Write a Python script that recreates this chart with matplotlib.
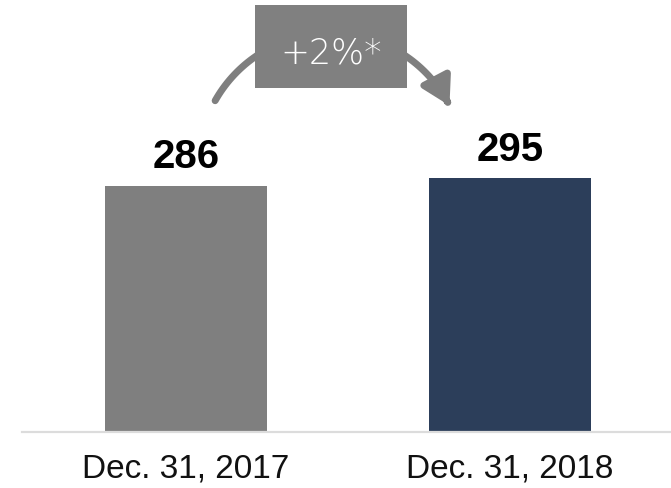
import numpy as np
import matplotlib
matplotlib.use("Agg")
import matplotlib.pyplot as plt
from matplotlib.patches import FancyArrowPatch, Rectangle
from matplotlib.path import Path

categories = ["Dec. 31, 2017", "Dec. 31, 2018"]
values = [286, 295]
bar_colors = ["#7f7f7f", "#2c3e5a"]
change_label = "+2%*"

W, H = 671, 489
fig = plt.figure(figsize=(W / 100, H / 100), dpi=100)

# main bar axes: baseline near the bottom, bars spaced 324 px apart
ax = fig.add_axes([22 / W, 56 / H, 649 / W, 433 / H])
x = np.arange(len(categories))
ax.bar(x, values, width=0.5, color=bar_colors, zorder=2)
ax.set_xlim(-0.506, 1.497)
ax.set_ylim(0, 433 / 0.8605)

for xi, v in zip(x, values):
    ax.annotate(f"{v}", (xi, v), xytext=(0, 7.5), textcoords="offset points",
                ha="center", va="bottom", fontsize=29, fontweight="bold",
                family=["Liberation Sans", "DejaVu Sans"], color="black")

ax.set_xticks(x)
ax.set_xticklabels(categories, fontsize=24,
                   family=["Liberation Sans", "DejaVu Sans"],
                   color="#111111")
ax.tick_params(axis="x", length=0, pad=15)
ax.set_yticks([])
for side in ("top", "right", "left"):
    ax.spines[side].set_visible(False)
ax.spines["bottom"].set_color("#dcdcdc")
ax.spines["bottom"].set_linewidth(1.6)

# overlay in pixel coordinates for the growth arrow and badge
ov = fig.add_axes([0, 0, 1, 1])
ov.set_xlim(0, W)
ov.set_ylim(H, 0)
ov.axis("off")
ov.patch.set_alpha(0)

cx, cy, r = 331, 167, 133
t = np.radians(np.linspace(150.6, 27.0, 80))
pts = np.column_stack([cx + r * np.cos(t), cy - r * np.sin(t)])
codes = [Path.MOVETO] + [Path.LINETO] * (len(pts) - 1)
arc = FancyArrowPatch(path=Path(pts, codes), arrowstyle="-|>,head_length=0.55,head_width=0.32",
                      mutation_scale=30, color="#7f7f7f", lw=5, zorder=3)
ov.add_patch(arc)

ov.add_patch(Rectangle((255, 6), 152, 83, facecolor="#808080", edgecolor="none", zorder=4))
ov.text(331, 54, change_label, ha="center", va="center", fontsize=25,
        color="white", family=["DejaVu Sans"], fontweight="light", zorder=5)

fig.savefig("out.png", dpi=100)
